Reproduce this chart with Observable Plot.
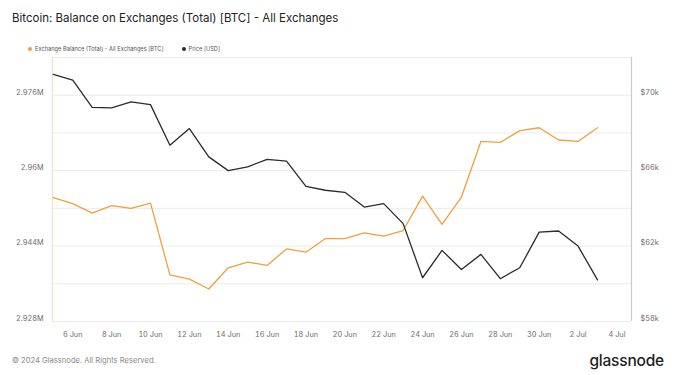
<!DOCTYPE html>
<html>
<head>
<meta charset="utf-8">
<script src="https://cdn.jsdelivr.net/npm/d3@7"></script>
<script src="https://cdn.jsdelivr.net/npm/@observablehq/plot@0.6"></script>
<style>
  html, body { margin: 0; padding: 0; background: #fff; }
  body { width: 676px; height: 375px; overflow: hidden; font-family: Inter, "Noto Sans", sans-serif; }
  #title { box-sizing: border-box; height: 38px; padding: 9px 0 0 12px; font-size: 11.5px; color: #222; line-height: 18px; }
  #legend { box-sizing: border-box; height: 16px; padding: 5px 0 0 28px; font-size: 5.7px; color: #555; display: flex; align-items: center; line-height: 10px; }
  #legend .item { display: flex; align-items: center; }
  #legend .dot { width: 4px; height: 4px; border-radius: 50%; display: inline-block; margin-right: 3px; }
  #chart svg { display: block; }
  #footer { box-sizing: border-box; height: 30px; display: flex; justify-content: space-between; align-items: center; padding: 0 12px 0 12px; }
  #copy { font-size: 7.6px; color: #8a8a8a; }
  #logo { font-size: 15.5px; color: #1e1e1e; letter-spacing: -0.2px; font-weight: 450; }
</style>
</head>
<body>
<div id="title">Bitcoin: Balance on Exchanges (Total) [BTC] - All Exchanges</div>
<div id="legend"></div>
<div id="chart"></div>
<div id="footer"><span id="copy">© 2024 Glassnode. All Rights Reserved.</span><span id="logo">glassnode</span></div>
<script>
// ---- data ----
const dates = [
  "2024-06-05","2024-06-06","2024-06-07","2024-06-08","2024-06-09","2024-06-10",
  "2024-06-11","2024-06-12","2024-06-13","2024-06-14","2024-06-15","2024-06-16",
  "2024-06-17","2024-06-18","2024-06-19","2024-06-20","2024-06-21","2024-06-22",
  "2024-06-23","2024-06-24","2024-06-25","2024-06-26","2024-06-27","2024-06-28",
  "2024-06-29","2024-06-30","2024-07-01","2024-07-02","2024-07-03"
];
const balanceBTC = [
  2954300, 2953000, 2951000, 2952600, 2952000, 2953100,
  2937900, 2937000, 2934900, 2939400, 2940600, 2939900,
  2943400, 2942700, 2945600, 2945600, 2946800, 2946100,
  2947300, 2954600, 2948600, 2954400, 2966200, 2966000,
  2968500, 2969100, 2966500, 2966200, 2969100
];
const priceUSD = [
  71100, 70800, 69350, 69330, 69650, 69500,
  67350, 68230, 66730, 66000, 66200, 66600,
  66500, 65170, 64960, 64850, 64070, 64250,
  63190, 60320, 61770, 60760, 61560, 60270,
  60850, 62740, 62800, 62000, 60210
];
const leftTicks = [2928000, 2944000, 2960000, 2976000];
const gridValues = [2928000, 2936000, 2944000, 2952000, 2960000, 2968000, 2976000, 2984000];
const rightTicks = [58000, 62000, 66000, 70000];
const xTickDates = ["2024-06-06","2024-06-08","2024-06-10","2024-06-12","2024-06-14","2024-06-16","2024-06-18","2024-06-20","2024-06-22","2024-06-24","2024-06-26","2024-06-28","2024-06-30","2024-07-02","2024-07-04"];
const seriesNames = ["Exchange Balance (Total) - All Exchanges [BTC]", "Price [USD]"];
const seriesColors = ["#f0a03c", "#2b2b2b"];

// ---- scales ----
const btcDomain = [2928000, 2984000];
const priceDomain = [58000, 72000];
const toBtc = p => btcDomain[0] + (p - priceDomain[0]) * (btcDomain[1] - btcDomain[0]) / (priceDomain[1] - priceDomain[0]);
const parse = s => new Date(s + "T00:00:00Z");
const xDomain = [new Date(Date.UTC(2024, 5, 4, 23)), new Date(Date.UTC(2024, 6, 4, 18))];

const rows = dates.map((d, i) => ({date: parse(d), btc: balanceBTC[i], price: priceUSD[i]}));

// legend
const legend = document.getElementById("legend");
seriesNames.forEach((n, i) => {
  const it = document.createElement("span");
  it.className = "item";
  it.style.marginRight = i === 0 ? "18px" : "0";
  it.innerHTML = `<span class="dot" style="background:${seriesColors[i]}"></span>${n}`;
  legend.appendChild(it);
});

const chart = Plot.plot({
  width: 676,
  height: 291,
  marginTop: 3,
  marginBottom: 24,
  marginLeft: 52,
  marginRight: 45,
  style: {fontFamily: "Inter, 'Noto Sans', sans-serif", fontSize: "7.3px", color: "#6b6b6b", background: "white", overflow: "visible"},
  x: {type: "utc", domain: xDomain},
  y: {domain: btcDomain},
  marks: [
    Plot.ruleY(gridValues, {stroke: "#ebebeb", strokeWidth: 1}),
    Plot.ruleX([xDomain[0]], {stroke: "#efe0c8", strokeWidth: 1.2}),
    Plot.ruleX([xDomain[1]], {stroke: "#c9c9c9", strokeWidth: 1.2}),
    Plot.axisY({anchor: "left", ticks: leftTicks, tickFormat: d3.format(".4~s"), tickSize: 0, tickPadding: 9, dy: -3, label: null}),
    Plot.axisY({anchor: "right", ticks: rightTicks.map(toBtc), tickFormat: (v, i) => "$" + rightTicks[i] / 1000 + "k", tickSize: 0, tickPadding: 9, dy: -3, label: null}),
    Plot.axisX({ticks: xTickDates.map(parse), tickFormat: d3.utcFormat("%-d %b"), tickSize: 0, tickPadding: 10, label: null}),
    Plot.lineY(rows, {x: "date", y: "btc", stroke: seriesColors[0], strokeWidth: 1.3}),
    Plot.lineY(rows, {x: "date", y: d => toBtc(d.price), stroke: seriesColors[1], strokeWidth: 1.3})
  ]
});
document.getElementById("chart").appendChild(chart);
</script>
</body>
</html>
